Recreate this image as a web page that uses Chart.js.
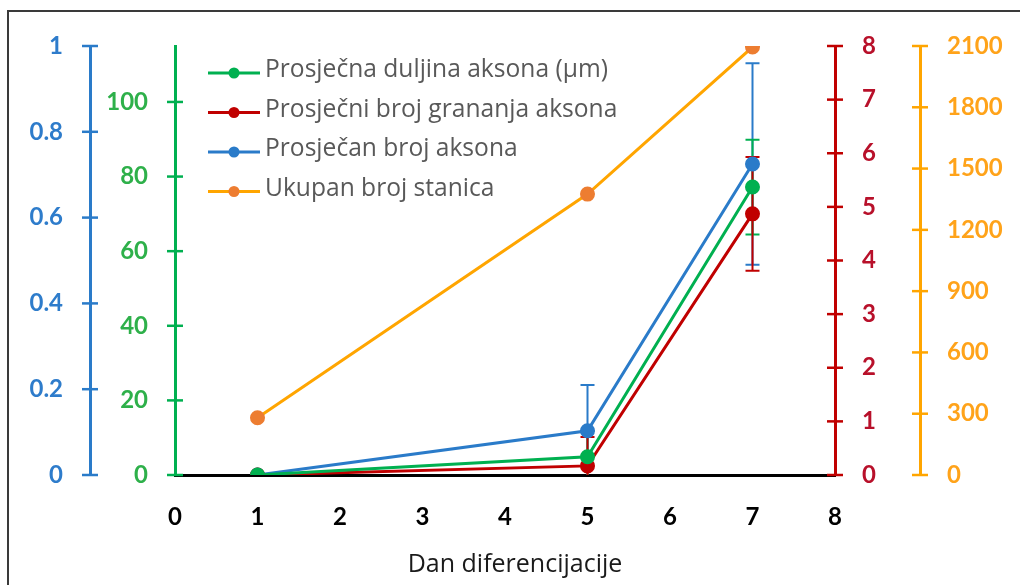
<!DOCTYPE html>
<html>
<head>
<meta charset="utf-8">
<script src="https://cdn.jsdelivr.net/npm/chart.js@4/dist/chart.umd.min.js"></script>
<style>
  html, body { margin: 0; padding: 0; background: #ffffff; }
  #wrap { position: relative; width: 1020px; height: 585px; }
</style>
</head>
<body>
<div id="wrap"><canvas id="chart"></canvas></div>
<script>
// Days of differentiation
const days = [1, 5, 7];

// Average axon length (µm) with error
const axonLength = [0, 4.9, 77.2];
const axonLengthErr = [0, 6.9, 12.7];

// Average number of axon branchings with error
const branching = [0, 0.17, 4.87];
const branchingErr = [0, 0.54, 1.06];

// Average number of axons with error
const axonCount = [0, 0.103, 0.725];
const axonCountErr = [0, 0.107, 0.235];

// Total number of cells
const cellCount = [280, 1375, 2095];

// Tick values for each axis
const dayTicks = [0, 1, 2, 3, 4, 5, 6, 7, 8];
const axonCountTicks = [0, 0.2, 0.4, 0.6, 0.8, 1];
const axonLengthTicks = [0, 20, 40, 60, 80, 100];
const branchingTicks = [0, 1, 2, 3, 4, 5, 6, 7, 8];
const cellCountTicks = [0, 300, 600, 900, 1200, 1500, 1800, 2100];

const labels = [
  'Prosječna duljina aksona (µm)',
  'Prosječni broj grananja aksona',
  'Prosječan broj aksona',
  'Ukupan broj stanica'
];
const xTitle = 'Dan diferencijacije';

const C = {
  green: '#00B050', greenText: '#2EB04A',
  red: '#C00000', redText: '#B8102A',
  blue: '#2A7BC9', blueText: '#2E7CCB',
  orange: '#FFA500', orangeMarker: '#ED7D31', orangeText: '#FFA31A'
};

const TICK_FONT = 'Lato, "Open Sans", sans-serif';
const TEXT_FONT = '"Open Sans", Lato, sans-serif';

const toPoints = (vals) => days.map((d, i) => ({ x: d, y: vals[i] }));

function series(label, vals, color, markerColor, axis) {
  return {
    label,
    data: toPoints(vals),
    yAxisID: axis,
    borderColor: color,
    backgroundColor: markerColor,
    pointBackgroundColor: markerColor,
    pointBorderColor: markerColor,
    pointRadius: 6,
    pointHoverRadius: 6,
    borderWidth: 3,
    tension: 0,
    fill: false
  };
}

const datasets = [
  series(labels[0], axonLength, C.green, C.green, 'yLength'),
  series(labels[1], branching, C.red, C.red, 'yBranch'),
  series(labels[2], axonCount, C.blue, C.blue, 'yCount'),
  series(labels[3], cellCount, C.orange, C.orangeMarker, 'yCells')
];

// Error bars: drawn blue first, then green, then red on top
const errorBars = [
  { ds: 2, err: axonCountErr },
  { ds: 0, err: axonLengthErr },
  { ds: 1, err: branchingErr }
];

const errorBarPlugin = {
  id: 'errorBars',
  beforeDatasetsDraw(chart) {
    const ctx = chart.ctx;
    const xs = chart.scales.x;
    const area = chart.chartArea;
    ctx.save();
    ctx.beginPath();
    ctx.rect(area.left - 20, area.top - 20, area.width + 40, area.height + 20);
    ctx.clip();
    errorBars.forEach(({ ds, err }) => {
      const set = chart.data.datasets[ds];
      const ys = chart.scales[set.yAxisID];
      ctx.strokeStyle = set.borderColor;
      ctx.lineWidth = 2;
      set.data.forEach((p, i) => {
        if (!err[i]) return;
        const x = xs.getPixelForValue(p.x);
        const yHi = ys.getPixelForValue(p.y + err[i]);
        const yLo = ys.getPixelForValue(p.y - err[i]);
        ctx.beginPath();
        ctx.moveTo(x, yHi); ctx.lineTo(x, yLo);
        ctx.moveTo(x - 7, yHi); ctx.lineTo(x + 7, yHi);
        ctx.moveTo(x - 7, yLo); ctx.lineTo(x + 7, yLo);
        ctx.stroke();
      });
    });
    ctx.restore();
  }
};

// Tick marks that cross each vertical axis line
const crossTickPlugin = {
  id: 'crossTicks',
  afterDraw(chart) {
    const ctx = chart.ctx;
    ctx.save();
    ['yCount', 'yLength', 'yBranch', 'yCells'].forEach((id) => {
      const s = chart.scales[id];
      const x = s.position === 'left' ? s.right : s.left;
      ctx.strokeStyle = s.options.border.color;
      ctx.lineWidth = 2.5;
      s.ticks.forEach((t) => {
        const y = s.getPixelForValue(t.value);
        ctx.beginPath();
        ctx.moveTo(x - 8, y);
        ctx.lineTo(x + 8, y);
        ctx.stroke();
      });
    });
    ctx.restore();
  }
};

// Legend with line-and-marker symbols inside the plot
const legendPlugin = {
  id: 'lineLegend',
  afterDatasetsDraw(chart) {
    const ctx = chart.ctx;
    ctx.save();
    ctx.font = '24.6px ' + TEXT_FONT;
    ctx.textBaseline = 'alphabetic';
    ctx.textAlign = 'left';
    chart.data.datasets.forEach((ds, i) => {
      const y = 73 + 39.5 * i;
      ctx.strokeStyle = ds.borderColor;
      ctx.lineWidth = 3;
      ctx.beginPath();
      ctx.moveTo(208, y);
      ctx.lineTo(260, y);
      ctx.stroke();
      ctx.fillStyle = ds.pointBackgroundColor;
      ctx.beginPath();
      ctx.arc(234, y, 5.5, 0, Math.PI * 2);
      ctx.fill();
      ctx.fillStyle = '#595959';
      ctx.fillText(ds.label, 265, y + 4);
    });
    ctx.restore();
  }
};

// Horizontal axis title, set slightly right of the plot centre
const xTitlePlugin = {
  id: 'xTitle',
  afterDraw(chart) {
    const ctx = chart.ctx;
    const xs = chart.scales.x;
    ctx.save();
    ctx.font = '25px ' + TEXT_FONT;
    ctx.fillStyle = '#1a1a1a';
    ctx.textAlign = 'center';
    ctx.textBaseline = 'alphabetic';
    ctx.fillText(xTitle, (xs.left + xs.right) / 2 + 10, xs.bottom - 13);
    ctx.restore();
  }
};

// Outer frame of the chart
const framePlugin = {
  id: 'frame',
  beforeDraw(chart) {
    const ctx = chart.ctx;
    ctx.save();
    ctx.fillStyle = '#ffffff';
    ctx.fillRect(0, 0, chart.width, chart.height);
    ctx.strokeStyle = '#3a3a3a';
    ctx.lineWidth = 2;
    ctx.beginPath();
    ctx.moveTo(8, chart.height + 5);
    ctx.lineTo(8, 11);
    ctx.lineTo(chart.width + 5, 11);
    ctx.stroke();
    ctx.restore();
  }
};

function fixedTicks(list) {
  return (scale) => { scale.ticks = list.map((v) => ({ value: v })); };
}

const plainNumber = (v) => String(v);

function yAxis(position, weight, min, max, tickList, color, textColor, width) {
  return {
    type: 'linear',
    position,
    weight,
    min,
    max,
    grid: { display: false, drawTicks: false },
    border: { display: true, color, width: 3 },
    ticks: {
      color: textColor,
      padding: 27,
      callback: plainNumber,
      font: { family: TICK_FONT, size: 24, weight: 'bold' }
    },
    afterBuildTicks: fixedTicks(tickList),
    afterFit: (s) => { s.width = width; }
  };
}

new Chart(document.getElementById('chart'), {
  type: 'line',
  data: { datasets },
  options: {
    responsive: true,
    maintainAspectRatio: false,
    animation: false,
    layout: { padding: { top: 46, bottom: 0, left: 0, right: 0 } },
    plugins: {
      legend: { display: false },
      tooltip: { enabled: false }
    },
    scales: {
      x: {
        type: 'linear',
        position: 'bottom',
        min: 0,
        max: 8,
        grid: { display: false, drawTicks: false },
        border: { display: true, color: '#000000', width: 3 },
        ticks: {
          color: '#000000',
          padding: 28,
          callback: plainNumber,
          font: { family: TICK_FONT, size: 24, weight: 'bold' }
        },
        afterBuildTicks: fixedTicks(dayTicks),
        afterFit: (s) => { s.height = 110; }
      },
      yCount: yAxis('left', 2, 0, 1, axonCountTicks, C.blue, C.blueText, 90),
      yLength: yAxis('left', 1, 0, 115, axonLengthTicks, C.green, C.greenText, 85),
      yBranch: yAxis('right', 1, 0, 8, branchingTicks, C.red, C.redText, 85),
      yCells: yAxis('right', 2, 0, 2100, cellCountTicks, C.orange, C.orangeText, 100)
    }
  },
  plugins: [framePlugin, errorBarPlugin, crossTickPlugin, legendPlugin, xTitlePlugin]
});
</script>
</body>
</html>
